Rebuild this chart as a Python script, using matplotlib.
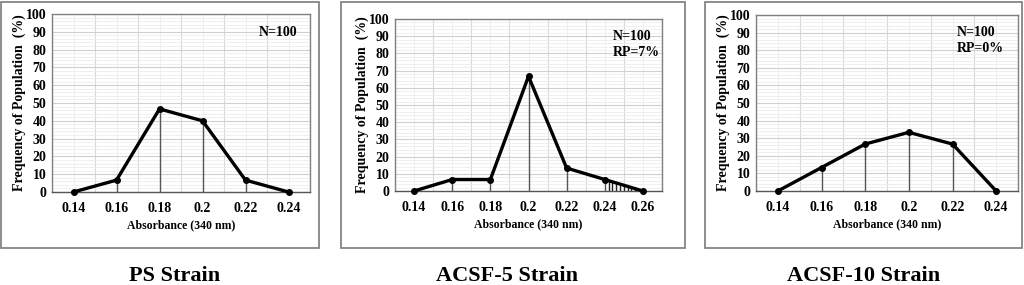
import numpy as np
import matplotlib.pyplot as plt
from matplotlib.patches import Rectangle
from matplotlib.ticker import MultipleLocator

plt.rcParams['font.family'] = ['Liberation Serif', 'DejaVu Serif']
plt.rcParams['font.weight'] = 'bold'

# ---- data ----
ps_x = ['0.14', '0.16', '0.18', '0.2', '0.22', '0.24']
ps_y = [0, 6.67, 46.67, 40, 6.67, 0]

acsf5_x = ['0.14', '0.16', '0.18', '0.2', '0.22', '0.24', '0.26']
acsf5_y = [0, 6.67, 6.67, 66.67, 13.33, 6.67, 0]
acsf5_rp_from = '0.24'   # hatched (resistant) region starts here

acsf10_x = ['0.14', '0.16', '0.18', '0.2', '0.22', '0.24']
acsf10_y = [0, 13.33, 26.67, 33.33, 26.67, 0]

titles = ['PS Strain', 'ACSF-5 Strain', 'ACSF-10 Strain']
notes = ['N=100', 'N=100\nRP=7%', 'N=100\nRP=0%']

W, H = 1024, 285
fig = plt.figure(figsize=(W / 100, H / 100), dpi=100)

def fx(px):
    return px / W

def fy(py):
    return 1 - py / H

# panel frames (pixel boxes)
frames = [(1, 2, 319, 248), (341, 2, 685, 248), (705, 2, 1022, 248)]
axes_px = [(52, 14, 310, 192), (395, 19, 662, 191), (756, 15, 1018, 191)]
note_pos = [(0.80, 0.935), (0.815, 0.935), (0.765, 0.94)]
title_x = [175, 507, 864]

for (l, t, r, b) in frames:
    fig.patches.append(Rectangle((fx(l), fy(b)), fx(r - l), (b - t) / H,
                                 transform=fig.transFigure, fill=False,
                                 edgecolor='#7a7a7a', linewidth=1.2))

datasets = [(ps_x, ps_y), (acsf5_x, acsf5_y), (acsf10_x, acsf10_y)]

for i, (cats, vals) in enumerate(datasets):
    l, t, r, b = axes_px[i]
    ax = fig.add_axes([fx(l), fy(b), fx(r - l), (b - t) / H])
    n = len(cats)
    pos = np.arange(n)
    ax.set_xlim(-0.5, n - 0.5)
    ax.set_ylim(0, 100)
    ax.set_xticks(pos)
    ax.set_xticklabels(cats)
    ax.xaxis.set_minor_locator(MultipleLocator(0.5))
    ax.yaxis.set_major_locator(MultipleLocator(10))
    ax.yaxis.set_minor_locator(MultipleLocator(2))
    ax.grid(which='major', axis='y', color='#cfcfcf', linewidth=0.8)
    ax.grid(which='minor', axis='y', color='#ececec', linewidth=0.6)
    ax.grid(which='minor', axis='x', color='#d8d8d8', linewidth=0.8)
    ax.grid(which='major', axis='x', color='#ececec', linewidth=0.6)
    ax.set_axisbelow(True)
    ax.tick_params(which='both', length=0, labelsize=10, pad=7)
    ax.tick_params(axis='y', pad=4)
    for lab in ax.get_xticklabels() + ax.get_yticklabels():
        lab.set_fontweight('bold')
    for s in ax.spines.values():
        s.set_color('#808080')
        s.set_linewidth(1.0)
    ax.spines['bottom'].set_color('#555555')

    # drop lines
    ax.vlines(pos, 0, vals, color='#555555', linewidth=1.0, zorder=2)
    # hatch for ACSF-5 RP region
    if i == 1:
        k = cats.index(acsf5_rp_from)
        hx = np.linspace(pos[k], pos[k + 1], 11)[1:-1]
        hy = np.interp(hx, pos, vals)
        ax.vlines(hx, 0, hy, color='#222222', linewidth=1.0, zorder=2)
    ax.plot(pos, vals, color='black', linewidth=2.4, marker='o',
            markersize=4, zorder=3, clip_on=False)

    ax.set_ylabel('Frequency of Population  (%)', fontsize=10,
                  fontweight='bold', labelpad=0)
    ax.set_xlabel('Absorbance (340 nm)', fontsize=8.5, fontweight='bold',
                  labelpad=3)
    ax.text(note_pos[i][0], note_pos[i][1], notes[i], transform=ax.transAxes,
            fontsize=10, fontweight='bold', va='top', ha='left',
            linespacing=1.3)

    fig.text(fx(title_x[i]), fy(276), titles[i], ha='center', va='center',
             fontsize=16, fontweight='bold')

fig.savefig('out.png', dpi=100)
